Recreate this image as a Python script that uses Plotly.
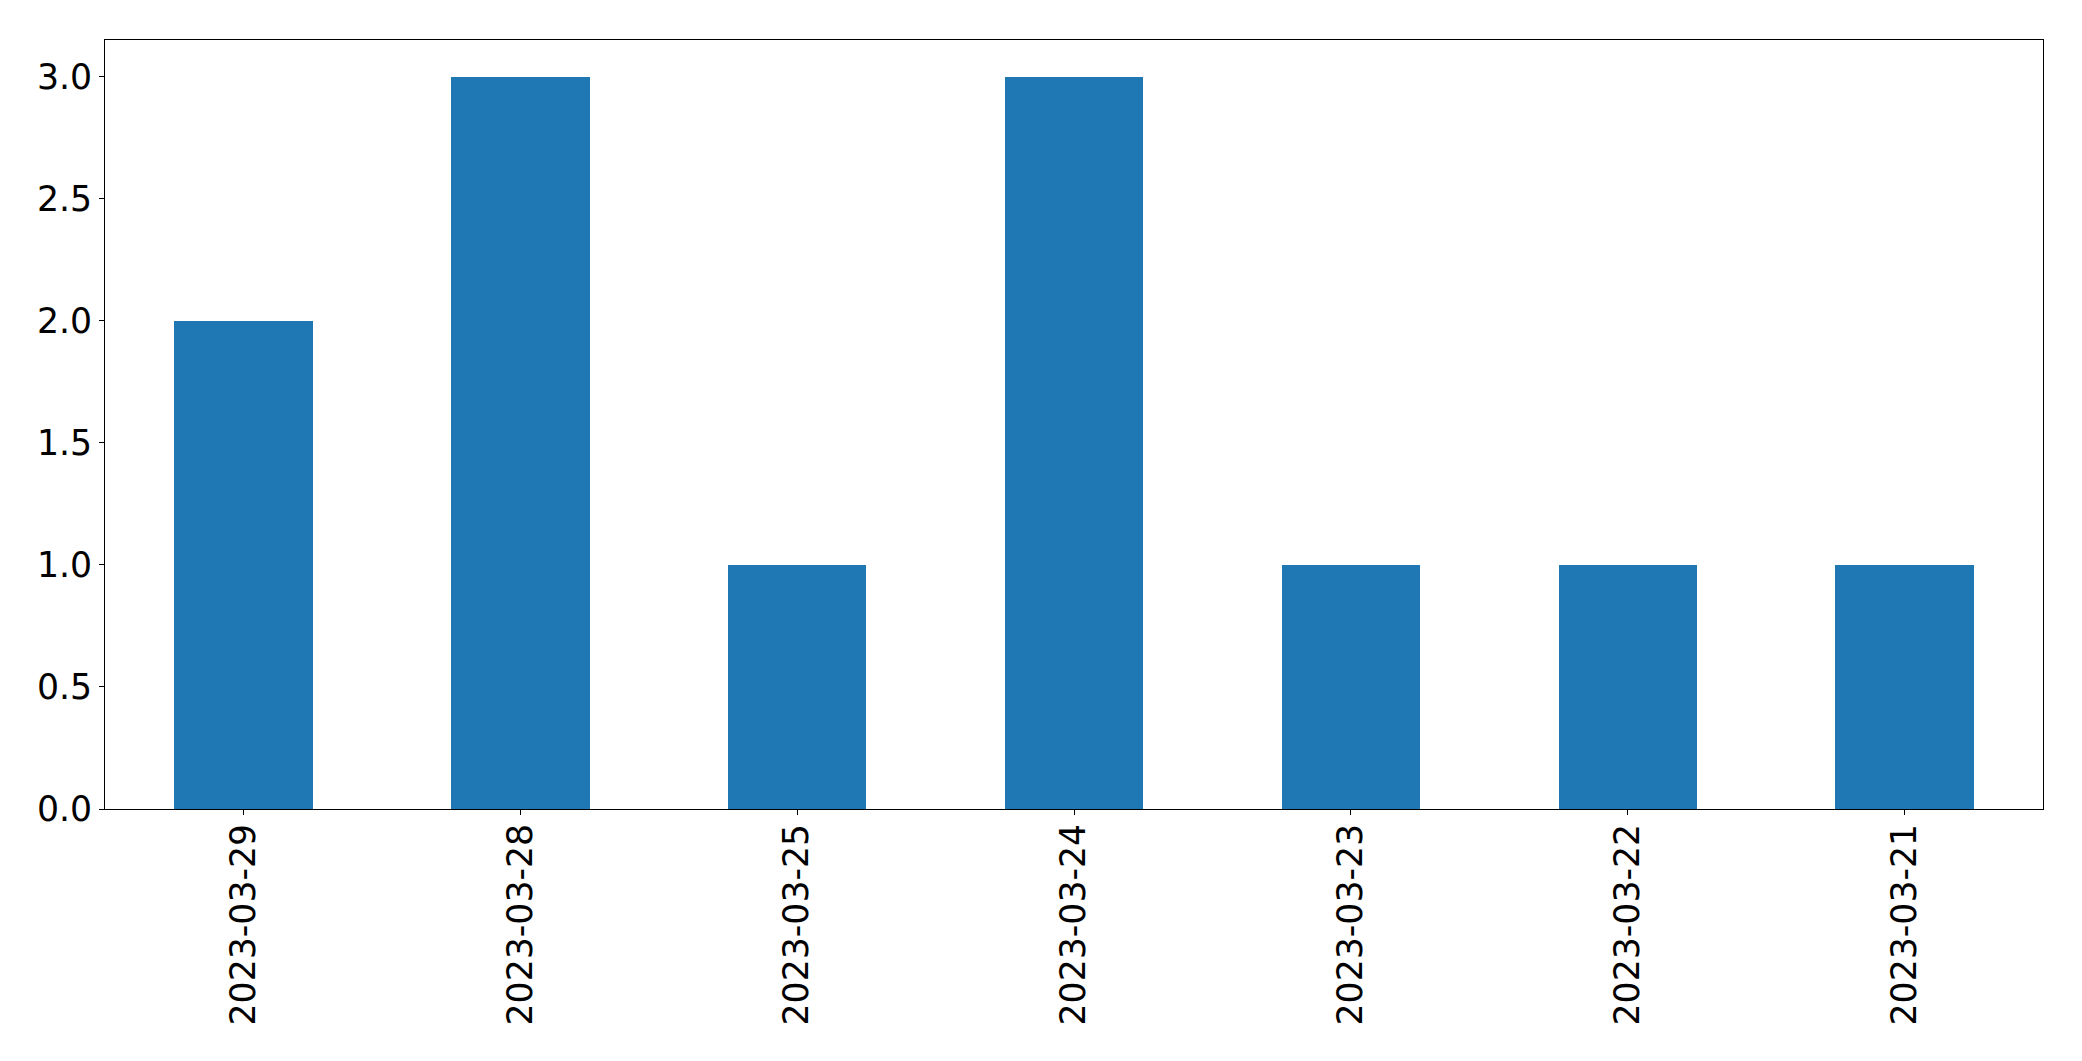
import plotly.graph_objects as go

dates = ["2023-03-29", "2023-03-28", "2023-03-25", "2023-03-24", "2023-03-23", "2023-03-22", "2023-03-21"]
counts = [2, 3, 1, 3, 1, 1, 1]
y_ticks = [0.0, 0.5, 1.0, 1.5, 2.0, 2.5, 3.0]
y_tick_labels = ["0.0", "0.5", "1.0", "1.5", "2.0", "2.5", "3.0"]

fig = go.Figure(go.Bar(x=list(range(len(dates))), y=counts, width=0.5,
                       marker=dict(color="#1f77b4", line=dict(width=0))))

font = dict(family="DejaVu Sans", size=34.7, color="black")
fig.update_layout(
    width=2074, height=1053,
    margin=dict(l=97, r=39, t=32, b=252, pad=0),
    paper_bgcolor="white", plot_bgcolor="white",
    showlegend=False, bargap=0,
    font=font,
)
fig.update_xaxes(
    range=[-0.5, len(dates) - 0.5],
    tickmode="array", tickvals=list(range(len(dates))), ticktext=dates,
    tickangle=-90, ticks="outside", ticklen=5, tickwidth=1, tickcolor="black",
    showline=True, linecolor="black", linewidth=1, mirror=True,
    showgrid=False, zeroline=False, tickfont=font, ticklabelstandoff=-5,
)
fig.update_yaxes(
    range=[0, 3.15],
    tickmode="array", tickvals=y_ticks, ticktext=y_tick_labels,
    ticks="outside", ticklen=5, tickwidth=1, tickcolor="black",
    showline=True, linecolor="black", linewidth=1, mirror=True,
    showgrid=False, zeroline=False, tickfont=font, ticklabelstandoff=0,
)
fig.write_html("out.html")
